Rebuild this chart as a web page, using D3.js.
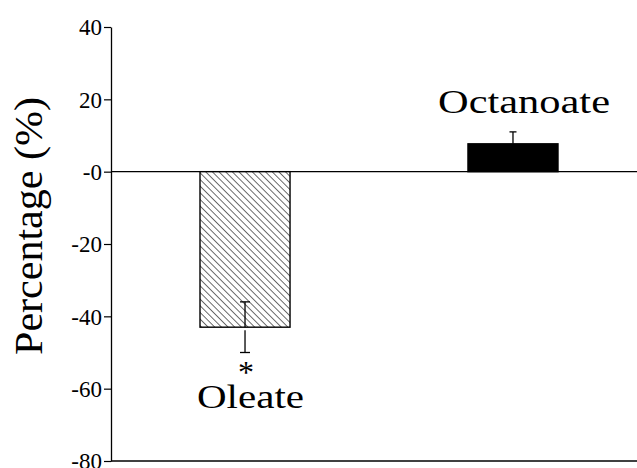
<!DOCTYPE html>
<html>
<head>
<meta charset="utf-8">
<script src="https://cdn.jsdelivr.net/npm/d3@7/dist/d3.min.js"></script>
<style>
  html, body { margin: 0; padding: 0; background: #fff; }
  svg { display: block; }
  text { font-family: "Liberation Serif", "Times New Roman", serif; fill: #000; }
</style>
</head>
<body>
<script>
// ---- data ----
const categories = ["Oleate", "Octanoate"];
const values = [-43, 7.7];
const errors = [7, 3.3];
const significant = [true, false];
const tickValues = [40, 20, 0, -20, -40, -60, -80];
const tickLabels = ["40", "20", "-0", "-20", "-40", "-60", "-80"];
const yDomain = [-80, 40];
const yTitle = "Percentage  (%)";

// ---- layout ----
const W = 637, H = 468;
const axisX = 111, plotRight = 637, yTop = 27, yBottom = 461;
const serif = "Liberation Serif";

const svg = d3.select("body").append("svg").attr("width", W).attr("height", H);

const defs = svg.append("defs");
const pat = defs.append("pattern")
  .attr("id", "hatch").attr("patternUnits", "userSpaceOnUse")
  .attr("width", 4.7).attr("height", 4.7)
  .attr("patternTransform", "rotate(-45)");
pat.append("rect").attr("width", 4.7).attr("height", 4.7).attr("fill", "#fff");
pat.append("line").attr("x1", 0).attr("y1", 0).attr("x2", 0).attr("y2", 4.7)
  .attr("stroke", "#000").attr("stroke-width", 1.15);

const y = d3.scaleLinear().domain(yDomain).range([yBottom, yTop]);
const x = d3.scaleBand().domain(categories).range([200, 558]).paddingInner(0.664).paddingOuter(0);

// y axis
const yAxis = d3.axisLeft(y).tickValues(tickValues)
  .tickFormat((d, i) => tickLabels[i]).tickSize(7).tickSizeOuter(0).tickPadding(3);
const ga = svg.append("g").attr("transform", `translate(${axisX},0)`).call(yAxis)
  .attr("font-family", serif).attr("font-size", 23);
ga.select(".domain").attr("stroke", "#000").attr("stroke-width", 1.3);
ga.selectAll(".tick line").attr("stroke", "#000").attr("stroke-width", 1.2);
ga.selectAll(".tick text")
  .attr("font-family", serif).attr("font-size", 23)
  .style("font-family", serif).style("font-size", "23px").attr("fill", "#000")
  .attr("x", -9).attr("dy", "0.34em");

// zero line and bottom line
svg.append("line").attr("x1", axisX).attr("x2", plotRight)
  .attr("y1", y(0)).attr("y2", y(0)).attr("stroke", "#000").attr("stroke-width", 1.3);
svg.append("line").attr("x1", axisX).attr("x2", plotRight)
  .attr("y1", y(yDomain[0])).attr("y2", y(yDomain[0])).attr("stroke", "#000").attr("stroke-width", 1.3);

// bars
const data = categories.map((c, i) => ({ c, v: values[i], e: errors[i], sig: significant[i], i }));
svg.selectAll("rect.bar").data(data).enter().append("rect")
  .attr("class", "bar")
  .attr("x", d => x(d.c))
  .attr("width", x.bandwidth())
  .attr("y", d => y(Math.max(0, d.v)))
  .attr("height", d => Math.abs(y(d.v) - y(0)))
  .attr("fill", d => d.i === 0 ? "url(#hatch)" : "#000")
  .attr("stroke", "#000").attr("stroke-width", 1.4);

// error bars
data.forEach(d => {
  const cx = x(d.c) + x.bandwidth() / 2;
  const capW = d.i === 0 ? 5 : 3.5;
  const g = svg.append("g").attr("stroke", "#000").attr("stroke-width", 1.3);
  const lo = d.v - d.e, hi = d.v + d.e;
  if (d.i === 0) {
    g.append("line").attr("x1", cx).attr("x2", cx).attr("y1", y(d.v)).attr("y2", y(hi));
    g.append("line").attr("x1", cx).attr("x2", cx).attr("y1", y(d.v) + 3).attr("y2", y(lo));
    g.append("line").attr("x1", cx - capW).attr("x2", cx + capW).attr("y1", y(lo)).attr("y2", y(lo));
    g.append("line").attr("x1", cx - capW).attr("x2", cx + capW).attr("y1", y(hi)).attr("y2", y(hi));
  } else {
    g.append("line").attr("x1", cx).attr("x2", cx).attr("y1", y(d.v)).attr("y2", y(hi));
    g.append("line").attr("x1", cx - capW).attr("x2", cx + capW).attr("y1", y(hi)).attr("y2", y(hi));
  }
  if (d.sig) {
    svg.append("text").attr("x", cx + 1).attr("y", y(lo) + 30)
      .attr("text-anchor", "middle").attr("font-size", 32).text("*");
  }
});

// category labels
svg.append("text").attr("x", 197).attr("y", 408).attr("font-size", 34)
  .attr("textLength", 107).attr("lengthAdjust", "spacingAndGlyphs").text(categories[0]);
svg.append("text").attr("x", 438).attr("y", 113).attr("font-size", 34)
  .attr("textLength", 172).attr("lengthAdjust", "spacingAndGlyphs").text(categories[1]);

// y title
svg.append("text").attr("transform", "translate(42,226) rotate(-90)")
  .attr("text-anchor", "middle").attr("font-size", 40)
  .attr("textLength", 258).attr("lengthAdjust", "spacingAndGlyphs").text(yTitle);
</script>
</body>
</html>
